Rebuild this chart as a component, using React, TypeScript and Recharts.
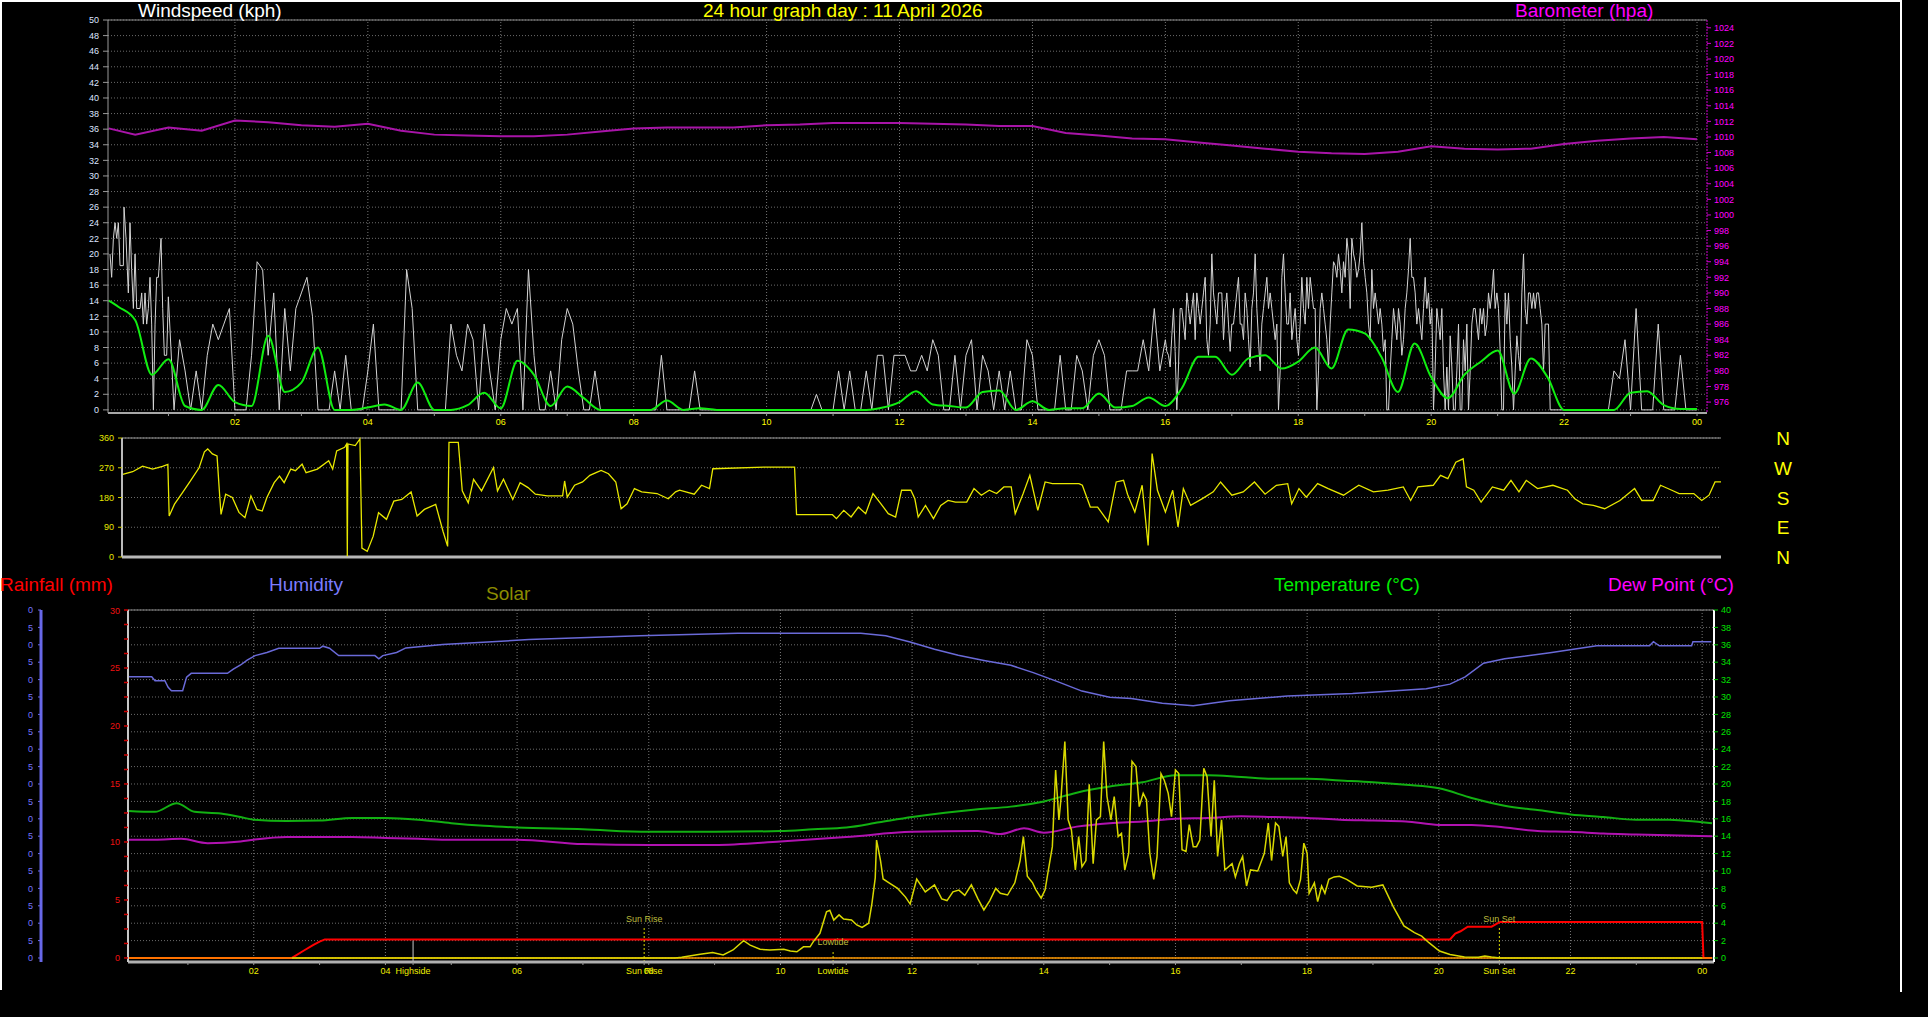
import React from "react";
import { LineChart, Line, XAxis, YAxis, CartesianGrid, ReferenceLine } from "recharts";

const FONT = "'Liberation Sans', Arial, sans-serif";

// ---------- axis ticks / labels ----------
const hourTicks = [1, 2, 3, 4, 5, 6, 7, 8, 9, 10, 11, 12, 13, 14, 15, 16, 17, 18, 19, 20, 21, 22, 23, 24];
const evenHourTicks = [2, 4, 6, 8, 10, 12, 14, 16, 18, 20, 22, 24];
const evenHourLabels = ["02", "04", "06", "08", "10", "12", "14", "16", "18", "20", "22", "00"];
const windTicks = [0, 2, 4, 6, 8, 10, 12, 14, 16, 18, 20, 22, 24, 26, 28, 30, 32, 34, 36, 38, 40, 42, 44, 46, 48, 50];
const baroTicks = [976, 978, 980, 982, 984, 986, 988, 990, 992, 994, 996, 998, 1000, 1002, 1004, 1006, 1008, 1010, 1012, 1014, 1016, 1018, 1020, 1022, 1024];
const dirTicks = [0, 90, 180, 270, 360];
const compassLabels = ["N", "W", "S", "E", "N"];
const rainLabelTicks = [0, 5, 10, 15, 20, 25, 30];
const tempTicks = [0, 2, 4, 6, 8, 10, 12, 14, 16, 18, 20, 22, 24, 26, 28, 30, 32, 34, 36, 38, 40];
const humTicks = [0, 5, 10, 15, 20, 25, 30, 35, 40, 45, 50, 55, 60, 65, 70, 75, 80, 85, 90, 95, 100];
// the humidity scale is cut at the left page edge: only the last digit of each label shows
const humVisibleLabels = ["0", "5", "0", "5", "0", "5", "0", "5", "0", "5", "0", "5", "0", "5", "0", "5", "0", "5", "0", "5", "0"];
const eventTimes = [4.42, 7.93, 10.8, 20.92];
const eventNames = ["Highside", "Sun Rise", "Lowtide", "Sun Set"];
const eventMarkerNames = ["", "Sun Rise", "Lowtide", "Sun Set"];

// ruler (unlabelled minor) ticks
const rainRulerTicks = Array.from({ length: 25 }, (_, i) => i * 1.25);

// ---------- data: wind gust (kph) ----------
// 00:07 - 01:00, readings [hour, kph]
const gustNight: [number, number][] = [
  [0.12, 20], [0.145, 17], [0.171, 22], [0.196, 24], [0.221, 22], [0.246, 24], [0.271, 18.5], [0.321, 18.5], [0.331, 26],
  [0.361, 22], [0.396, 15], [0.421, 24], [0.446, 18], [0.472, 13], [0.497, 20], [0.522, 13], [0.572, 13], [0.597, 15],
  [0.622, 11], [0.647, 15], [0.672, 11], [0.697, 13], [0.722, 17], [0.747, 11], [0.773, 0], [0.798, 11], [0.823, 17],
  [0.848, 17], [0.888, 22], [0.913, 13], [0.938, 7], [0.973, 7], [0.998, 14.5],
];
// 01:05 - 16:00, 5-minute readings
const gustDay5min = [
  0, 9, 5, 0, 5, 0, 7, 11, 9, 11, 13, 0,
  0, 0, 7, 19, 18, 7, 15, 0, 13, 5, 13, 15,
  17, 12, 0, 0, 0, 5, 0, 7, 0, 0, 0, 5,
  11, 0, 0, 0, 0, 0, 18, 13, 0, 0, 0, 0,
  0, 0, 11, 7, 5, 11, 9, 0, 11, 5, 0, 9,
  13, 11, 13, 0, 18, 7, 0, 0, 5, 0, 9, 13,
  11, 5, 0, 0, 5, 0, 0, 0, 0, 0, 0, 0,
  0, 0, 0, 0, 7, 0, 0, 0, 0, 0, 5, 0,
  0, 0, 0, 0, 0, 0, 0, 0, 0, 0, 0, 0,
  0, 0, 0, 0, 0, 0, 0, 0, 2, 0, 0, 0,
  5, 0, 5, 0, 0, 5, 0, 7, 7, 0, 7, 7,
  7, 5, 5, 7, 5, 9, 7, 0, 0, 7, 0, 7,
  9, 0, 7, 5, 0, 5, 0, 5, 0, 0, 9, 7,
  0, 0, 0, 0, 7, 0, 0, 7, 5, 0, 7, 9,
  7, 0, 0, 0, 5, 5, 5, 9, 5, 13, 5, 9,
];
// 16:01 - 21:47, 1.5-minute readings
const gustEvening = [
  7.5, 7, 5.5, 9.5, 13, 7.5, 0, 5.5, 13, 13, 11, 9, 15, 13, 11, 13, 15, 9, 15, 13,
  11, 13, 15, 17, 9, 7, 11, 20, 15, 13, 11, 15, 15, 15, 9, 13, 15, 11, 7.5, 11,
  11, 13, 15, 17, 11, 11, 9, 15, 13, 9, 5.5, 13, 15, 20, 13, 9, 5, 11, 13, 15,
  17, 13, 15, 13, 11, 9, 11, 0, 5, 17, 20, 15, 11, 11, 15, 9, 11, 13, 9, 7,
  11, 17, 13, 11, 17, 13, 17, 15, 13, 13, 0, 5, 13, 15, 13, 11, 9, 5.5, 11, 15,
  19, 18.5, 17, 20, 18, 15, 19, 17, 22, 20, 13, 22, 20, 19, 17, 18, 20, 24, 19,
  17, 15, 11, 9, 18, 13, 15, 13, 11, 13, 11, 7.5, 9, 0, 0, 5, 9, 13, 11, 9,
  13, 11, 7, 9, 13, 15, 18, 22, 17, 17, 15, 11, 13, 11, 9, 13, 17, 13, 15, 11, 13,
  0, 5.5, 13, 11, 9, 13, 5, 0, 5.5, 0, 9.5, 5.5, 0, 0, 5, 11, 0, 0, 9, 5,
  11, 0, 5, 11, 13, 13, 11, 9, 13, 11, 13, 9.5, 11, 15, 13, 15, 18, 13, 15, 13,
  7.5, 0, 0, 15, 11, 15, 9, 5.5, 0, 5, 9.5, 7, 5,
  15, 20, 13, 11, 15, 15, 13, 15, 13, 15, 15, 13, 11, 5, 11, 11, 11, 0,
];
// 21:50 - 24:00, 5-minute readings
const gustLate5min = [
  0, 0, 0,
  0, 0, 0, 0, 0, 0, 0, 0, 5, 4, 9, 0,
  13, 0, 0, 0, 11, 0, 0, 0, 7, 0, 0, 0,
];

// ---------- data: windspeed average (kph), 15-minute readings ----------
const windAvg = [
  14, 13.2, 11.5, 4.5, 6.5, 0.5, 0, 3.2, 1.0, 0.5, 9.5, 2.3,
  3.5, 8, 0, 0, 0.3, 0.7, 0, 3.5, 0, 0, 0.6, 2.2,
  0.2, 6.3, 4.5, 0.5, 3.0, 1.5, 0, 0, 0, 0, 1.2, 0,
  0.2, 0, 0, 0, 0, 0, 0, 0, 0, 0, 0, 0.3,
  1.0, 2.4, 0.7, 0.5, 0.3, 2.3, 2.5, 0, 1.1, 0, 0.2, 0.2,
  2.1, 0.3, 0.5, 1.6, 0.5, 2.8, 6.8, 6.8, 4.5, 6.6, 7.0, 5.3,
  6.2, 8.0, 5.3, 10.3, 9.8, 6.8, 2.3, 8.5, 4.2, 1.5, 4.5, 6.2,
  7.6, 2.1, 6.6, 4.2, 0, 0, 0, 0, 2.2, 2.4, 0.6, 0.1,
  0.1,
];

// ---------- data: barometer (hPa), 30-minute readings ----------
const barometer = [
  1011.1, 1010.3, 1011.2, 1010.8, 1012.1, 1011.9, 1011.5, 1011.3, 1011.7, 1010.8,
  1010.3, 1010.2, 1010.1, 1010.1, 1010.3, 1010.7, 1011.1, 1011.2, 1011.2, 1011.2,
  1011.5, 1011.6, 1011.8, 1011.8, 1011.8, 1011.7, 1011.6, 1011.4, 1011.4, 1010.5,
  1010.2, 1009.8, 1009.7, 1009.3, 1008.9, 1008.5, 1008.1, 1007.9, 1007.8, 1008.1,
  1008.8, 1008.5, 1008.4, 1008.5, 1009.1, 1009.5, 1009.8, 1010.0, 1009.7,
];

// ---------- data: wind direction [hour, degrees] ----------
const windDirection: [number, number][] = [
  [0.1, 250], [0.25, 258], [0.4, 275], [0.55, 266], [0.7, 274], [0.78, 280], [0.8, 124], [0.88, 160], [1.0, 195], [1.12, 230],
  [1.25, 270], [1.33, 318], [1.38, 327], [1.45, 312], [1.52, 306], [1.56, 185], [1.58, 129], [1.65, 190], [1.75, 180], [1.85, 135],
  [1.94, 119], [2.03, 185], [2.12, 144], [2.2, 139], [2.27, 180], [2.38, 225], [2.46, 245], [2.53, 225], [2.63, 266], [2.7, 261],
  [2.8, 281], [2.86, 255], [3.03, 266], [3.2, 291], [3.26, 266], [3.32, 321], [3.44, 332], [3.47, 342], [3.48, 2], [3.49, 342],
  [3.6, 337], [3.67, 357], [3.7, 27], [3.78, 17], [3.87, 63], [3.95, 134], [4.07, 114], [4.18, 169], [4.3, 174], [4.44, 197],
  [4.53, 124], [4.64, 144], [4.81, 159], [4.92, 78], [4.99, 32], [5.01, 347], [5.15, 347], [5.21, 200], [5.3, 164], [5.38, 235],
  [5.5, 200], [5.68, 271], [5.74, 200], [5.83, 235], [5.97, 174], [6.08, 225], [6.2, 210], [6.31, 190], [6.49, 185], [6.72, 185],
  [6.75, 230], [6.79, 181], [6.9, 217], [7.02, 227], [7.13, 247], [7.24, 257], [7.3, 262], [7.41, 252], [7.52, 227], [7.6, 146],
  [7.69, 161], [7.8, 207], [7.91, 197], [8.14, 192], [8.31, 176], [8.42, 197], [8.48, 202], [8.7, 190], [8.81, 217], [8.93, 207],
  [8.98, 267], [9.77, 272], [10.21, 272], [10.24, 128], [10.78, 128], [10.84, 116], [10.95, 141], [11.06, 121], [11.17, 151], [11.28, 131],
  [11.39, 192], [11.51, 161], [11.62, 131], [11.73, 121], [11.82, 202], [11.96, 202], [12.02, 176], [12.07, 121], [12.18, 156], [12.3, 116],
  [12.41, 156], [12.52, 171], [12.63, 166], [12.8, 166], [12.91, 207], [13.02, 187], [13.14, 202], [13.25, 192], [13.36, 212], [13.47, 212],
  [13.53, 131], [13.65, 192], [13.75, 247], [13.87, 141], [13.98, 227], [14.09, 222], [14.32, 222], [14.49, 222], [14.54, 217], [14.66, 151],
  [14.77, 151], [14.93, 106], [15.05, 227], [15.16, 232], [15.22, 190], [15.33, 136], [15.44, 217], [15.53, 35], [15.59, 313], [15.67, 202],
  [15.79, 136], [15.9, 202], [15.98, 91], [16.06, 207], [16.17, 156], [16.34, 176], [16.51, 197], [16.62, 227], [16.79, 187], [16.96, 197],
  [17.13, 227], [17.29, 190], [17.46, 217], [17.63, 222], [17.69, 161], [17.8, 207], [17.91, 181], [18.08, 222], [18.24, 207], [18.47, 187],
  [18.7, 217], [18.92, 197], [19.14, 202], [19.37, 212], [19.48, 171], [19.59, 212], [19.82, 217], [19.93, 247], [20.04, 237], [20.16, 287],
  [20.27, 297], [20.32, 212], [20.43, 202], [20.54, 166], [20.71, 212], [20.88, 202], [20.99, 232], [21.11, 197], [21.22, 232], [21.39, 207],
  [21.62, 217], [21.84, 202], [21.95, 176], [22.07, 161], [22.23, 156], [22.4, 146], [22.63, 171], [22.85, 207], [22.96, 171], [23.13, 171],
  [23.24, 217], [23.41, 202], [23.52, 192], [23.74, 192], [23.86, 171], [23.97, 187], [24.06, 227], [24.15, 227],
];

// ---------- data: humidity (%) [hour, value] ----------
const humidity: [number, number][] = [
  [0.1, 80.8], [0.45, 80.8], [0.5, 79.7], [0.65, 79.7], [0.7, 77.8], [0.75, 76.8], [0.92, 76.8], [0.98, 80.7], [1.05, 81.8], [1.6, 81.8],
  [1.69, 83.0], [1.8, 84.2], [1.9, 85.6], [2.02, 86.9], [2.2, 87.8], [2.38, 89.0], [3.0, 89.0], [3.05, 89.6], [3.15, 89.0], [3.29, 86.9],
  [3.84, 86.9], [3.9, 86.0], [3.96, 86.9], [4.17, 87.8], [4.31, 89.1], [4.87, 90.1], [6.18, 91.5], [7.86, 92.6], [9.35, 93.3], [11.22, 93.3],
  [11.6, 92.6], [11.97, 90.8], [12.34, 88.7], [12.7, 87.0], [13.09, 85.5], [13.5, 84.1], [13.84, 82.0], [14.2, 79.5], [14.58, 76.7], [15.0, 74.9],
  [15.33, 74.6], [15.8, 73.2], [16.27, 72.5], [16.82, 73.9], [17.7, 75.3], [18.69, 76.0], [19.81, 77.4], [20.17, 78.7], [20.4, 80.8], [20.68, 84.7],
  [21.0, 86.0], [21.69, 87.7], [22.4, 89.7], [23.2, 89.7], [23.26, 90.9], [23.35, 89.7], [23.84, 89.7], [23.86, 90.9], [24.14, 90.9],
];

// ---------- data: temperature (°C) [hour, value] ----------
const temperature: [number, number][] = [
  [0.1, 16.9], [0.5, 16.8], [0.83, 17.8], [1.1, 16.8], [1.5, 16.6], [1.8, 16.2], [2.0, 15.9], [2.5, 15.75], [3.0, 15.8], [3.5, 16.1],
  [4.0, 16.1], [4.5, 15.9], [5.0, 15.5], [5.5, 15.2], [6.0, 15.0], [7.0, 14.8], [8.0, 14.5], [9.0, 14.5], [10.0, 14.6], [10.5, 14.8],
  [11.0, 15.0], [11.5, 15.6], [12.0, 16.2], [12.5, 16.7], [13.0, 17.1], [13.5, 17.4], [14.0, 18.0], [14.5, 19.0], [15.0, 19.7], [15.5, 20.2],
  [16.0, 21.0], [16.5, 21.0], [17.0, 20.8], [17.5, 20.6], [18.0, 20.6], [18.5, 20.4], [19.0, 20.2], [19.5, 19.9], [20.0, 19.5], [20.5, 18.4],
  [21.0, 17.5], [21.5, 17.0], [22.0, 16.5], [22.5, 16.2], [23.0, 15.9], [23.5, 15.9], [24.0, 15.6], [24.15, 15.5],
];

// ---------- data: dew point (°C) [hour, value] ----------
const dewPoint: [number, number][] = [
  [0.1, 13.6], [0.5, 13.6], [0.9, 13.7], [1.3, 13.2], [1.8, 13.4], [2.0, 13.6], [2.5, 13.9], [3.0, 13.9], [3.5, 13.9], [4.0, 13.8],
  [4.5, 13.7], [5.0, 13.6], [6.0, 13.6], [7.0, 13.1], [8.0, 13.0], [9.0, 13.0], [10.0, 13.4], [11.0, 13.9], [12.0, 14.5], [13.0, 14.6],
  [13.34, 14.25], [13.7, 14.9], [14.0, 14.4], [14.5, 15.1], [15.0, 15.5], [15.5, 15.7], [16.0, 16.0], [16.5, 16.1], [17.0, 16.3], [17.5, 16.2],
  [18.0, 16.1], [18.5, 15.9], [19.0, 15.8], [19.5, 15.7], [20.0, 15.3], [20.5, 15.3], [21.0, 15.0], [21.5, 14.6], [22.0, 14.5], [22.5, 14.3],
  [23.0, 14.2], [23.5, 14.1], [24.15, 14.0],
];

// ---------- data: rainfall (mm) [hour, value] ----------
const rainfall: [number, number][] = [
  [0.1, 0], [2.58, 0], [2.75, 0.6], [2.9, 1.1], [3.0, 1.4], [3.08, 1.6], [20.17, 1.6], [20.25, 2.1],
  [20.33, 2.3], [20.44, 2.7], [20.8, 2.7], [20.93, 3.1], [24.0, 3.1], [24.02, 0], [24.15, 0],
];

// ---------- data: rain rate (mm/h) [hour, value] ----------
const rainRate: [number, number][] = [[0.1, 0], [24.15, 0]];

// ---------- data: solar (W/m²) [hour, value] ----------
const solar: [number, number][] = [
  [2.58, 0], [8.4, 0], [8.5, 2], [8.78, 11], [8.97, 16], [9.13, 9], [9.28, 23], [9.44, 50], [9.54, 37], [9.69, 25],
  [9.84, 23], [10.05, 25], [10.15, 20], [10.25, 18], [10.35, 32], [10.45, 32], [10.5, 47], [10.6, 71], [10.7, 133], [10.75, 137],
  [10.81, 109], [10.89, 124], [10.96, 112], [11.08, 109], [11.16, 95], [11.24, 88], [11.34, 100], [11.39, 157], [11.44, 230], [11.46, 339],
  [11.52, 280], [11.56, 227], [11.65, 216], [11.78, 200], [11.9, 175], [11.97, 155], [12.07, 227], [12.2, 190], [12.34, 210], [12.45, 170],
  [12.53, 165], [12.62, 190], [12.71, 195], [12.8, 180], [12.9, 210], [13.0, 170], [13.09, 138], [13.18, 165], [13.27, 200], [13.34, 186],
  [13.45, 181], [13.56, 216], [13.64, 280], [13.69, 349], [13.75, 235], [13.83, 216], [13.88, 196], [13.96, 172], [14.02, 196], [14.07, 253],
  [14.13, 320], [14.18, 540], [14.23, 397], [14.26, 455], [14.32, 622], [14.37, 397], [14.42, 368], [14.48, 253], [14.53, 349], [14.58, 262],
  [14.64, 280], [14.69, 499], [14.75, 271], [14.8, 397], [14.86, 406], [14.91, 622], [14.96, 464], [15.02, 397], [15.07, 464], [15.13, 349],
  [15.18, 358], [15.23, 253], [15.29, 301], [15.34, 565], [15.4, 550], [15.45, 435], [15.51, 473], [15.56, 454], [15.61, 301], [15.67, 226],
  [15.72, 291], [15.78, 530], [15.83, 511], [15.89, 473], [15.94, 406], [16.0, 540], [16.05, 530], [16.1, 311], [16.16, 306], [16.21, 383],
  [16.27, 320], [16.32, 320], [16.37, 339], [16.43, 545], [16.48, 521], [16.54, 349], [16.59, 511], [16.64, 292], [16.7, 397], [16.75, 253],
  [16.86, 271], [16.91, 233], [16.97, 271], [17.02, 292], [17.08, 207], [17.14, 253], [17.25, 250], [17.35, 301], [17.41, 388], [17.46, 280],
  [17.52, 388], [17.57, 378], [17.63, 292], [17.68, 349], [17.73, 216], [17.79, 196], [17.84, 186], [17.9, 226], [17.95, 330], [18.0, 301],
  [18.03, 186], [18.11, 216], [18.16, 162], [18.22, 207], [18.27, 186], [18.33, 226], [18.41, 233], [18.49, 235], [18.6, 226], [18.76, 207],
  [18.98, 203], [19.15, 210], [19.31, 147], [19.47, 92], [19.63, 73], [19.74, 63], [19.85, 44], [20.01, 20], [20.17, 10], [20.39, 3],
  [20.6, 2], [20.7, 6], [20.8, 3], [20.93, 0], [24.0, 0],
];

// ---------- build library data ----------
const pairs = (a: [number, number][]) => a.map(([t, v]) => ({ t, v }));
const gustData = [
  ...pairs(gustNight),
  ...gustDay5min.map((v, i) => ({ t: 1 + (i + 1) / 12, v })),
  ...gustEvening.map((v, i) => ({ t: 16.022 + i * 0.02508, v })),
  ...gustLate5min.map((v, i) => ({ t: 21.833 + i / 12, v })),
];
const avgData = windAvg.map((v, i) => ({ t: i === 0 ? 0.1 : i / 4, v }));
const baroData = barometer.map((v, i) => ({ t: i === 0 ? 0.1 : i / 2, v }));
const dirData = pairs(windDirection);
const humData = pairs(humidity);
const tempData = pairs(temperature);
const dewData = pairs(dewPoint);
const rainData = pairs(rainfall);
const rainRateData = pairs(rainRate);
const solarData = pairs(solar);

const fmtTop = (v: number) => {
  const i = evenHourTicks.indexOf(v);
  return i >= 0 ? evenHourLabels[i] : "";
};
const bottomTicks = [...hourTicks, ...eventTimes];
const fmtBottom = (v: number) => {
  const e = eventTimes.indexOf(v);
  if (e >= 0) return eventNames[e];
  return fmtTop(v);
};
const fmtHum = (v: number) => {
  const i = humTicks.indexOf(v);
  return i >= 0 ? humVisibleLabels[i] : "";
};

const tickText = { fontSize: 9, fontFamily: FONT };

const RainTick = (p: any) => {
  const { x, y, payload } = p;
  const v = payload.value;
  const labelled = rainLabelTicks.indexOf(v) >= 0;
  return (
    <g>
      <line x1={x - 4} x2={x} y1={y} y2={y} stroke="#cc0000" strokeWidth={1.5} />
      {labelled && (
        <text x={x - 8} y={y} dy={3.5} textAnchor="end" fill="#ee1111" {...tickText}>
          {v}
        </text>
      )}
    </g>
  );
};

const gridStroke = "#6c6c6c";

export default function App() {
  return (
    <div style={{ position: "fixed", left: 0, top: 0, width: 1928, height: 1017, background: "#000", overflow: "hidden" }}>
      {/* ---- top: windspeed + barometer ---- */}
      <div style={{ position: "absolute", left: 0, top: 0 }}>
        <LineChart width={1928} height={440} margin={{ top: 20, right: 161, bottom: 3, left: 68 }}>
          <CartesianGrid yAxisId="wind" vertical={false} stroke={gridStroke} strokeDasharray="1 2" />
          <XAxis
            type="number"
            dataKey="t"
            domain={[0.09, 24.15]}
            allowDataOverflow
            ticks={hourTicks}
            interval={0}
            tickFormatter={fmtTop}
            height={24}
            tick={{ fill: "#ffff00", ...tickText }}
            tickLine={{ stroke: "#999" }}
            tickSize={3}
            tickMargin={3}
            axisLine={{ stroke: "#a8a8a8", strokeWidth: 2 }}
          />
          <YAxis
            yAxisId="wind"
            orientation="left"
            width={40}
            domain={[-0.4, 50]}
            ticks={windTicks}
            interval={0}
            allowDataOverflow
            tick={{ fill: "#dde4ff", ...tickText }}
            tickSize={5}
            tickMargin={4}
            axisLine={{ stroke: "#999" }}
            tickLine={{ stroke: "#999" }}
          />
          <YAxis
            yAxisId="baro"
            orientation="right"
            width={60}
            domain={[974.6, 1025]}
            ticks={baroTicks}
            interval={0}
            allowDataOverflow
            tick={{ fill: "#ff00ff", ...tickText }}
            tickSize={4}
            tickMargin={3}
            axisLine={{ stroke: "#d000d0", strokeDasharray: "2 1" }}
            tickLine={{ stroke: "#d000d0" }}
          />
          {evenHourTicks.map((h) => (
            <ReferenceLine key={"tv" + h} x={h} yAxisId="wind" stroke="#777" strokeDasharray="1 2" />
          ))}
          <ReferenceLine y={50} yAxisId="wind" stroke="#8a8a8a" />
          <Line data={baroData} yAxisId="baro" dataKey="v" type="linear" stroke="#a814a8" strokeWidth={2} dot={false} isAnimationActive={false} />
          <Line data={gustData} yAxisId="wind" dataKey="v" type="linear" stroke="#d4d4d4" strokeWidth={1} dot={false} isAnimationActive={false} />
          <Line data={avgData} yAxisId="wind" dataKey="v" type="monotone" stroke="#11ee11" strokeWidth={2} dot={false} isAnimationActive={false} />
        </LineChart>
      </div>

      {/* ---- middle: wind direction ---- */}
      <div style={{ position: "absolute", left: 0, top: 430 }}>
        <LineChart width={1928} height={132} margin={{ top: 8, right: 207, bottom: 5, left: 82 }}>
          <CartesianGrid yAxisId="dir" vertical={false} stroke={gridStroke} strokeDasharray="1 2" />
          <XAxis hide type="number" dataKey="t" domain={[0.09, 24.15]} allowDataOverflow />
          <YAxis
            yAxisId="dir"
            width={40}
            domain={[0, 360]}
            ticks={dirTicks}
            interval={0}
            tick={{ fill: "#e6e600", ...tickText }}
            tickSize={4}
            tickMargin={4}
            axisLine={{ stroke: "#bbbbbb", strokeWidth: 2 }}
            tickLine={{ stroke: "#cccc00" }}
          />
          <ReferenceLine y={360} yAxisId="dir" stroke="#9a9a9a" />
          <ReferenceLine y={0} yAxisId="dir" stroke="#b8b8b8" strokeWidth={3} />
          <Line data={dirData} yAxisId="dir" dataKey="v" type="linear" stroke="#e8e800" strokeWidth={1.3} dot={false} isAnimationActive={false} />
        </LineChart>
      </div>

      {/* ---- humidity scale (far left) ---- */}
      <div style={{ position: "absolute", left: 0, top: 560 }}>
        <LineChart width={120} height={440} margin={{ top: 50, right: 10, bottom: 38, left: 0 }}>
          <XAxis hide type="number" dataKey="t" domain={[0.09, 24.18]} allowDataOverflow />
          <YAxis
            yAxisId="hum"
            width={41}
            domain={[-1.15, 100]}
            ticks={humTicks}
            interval={0}
            allowDataOverflow
            tickFormatter={fmtHum}
            tick={{ fill: "#7676ff", ...tickText }}
            tickSize={3}
            tickMargin={5}
            tickLine={{ stroke: "#6a6af0" }}
            axisLine={{ stroke: "#6868e8", strokeWidth: 3 }}
          />
          <Line data={humData} yAxisId="hum" dataKey="v" hide isAnimationActive={false} dot={false} />
        </LineChart>
      </div>

      {/* ---- bottom: rain / humidity / solar / temperature / dew point ---- */}
      <div style={{ position: "absolute", left: 0, top: 560 }}>
        <LineChart width={1928} height={440} margin={{ top: 50, right: 154, bottom: 8, left: 68 }}>
          <CartesianGrid yAxisId="temp" vertical={false} stroke={gridStroke} strokeDasharray="1 2" />
          <XAxis
            type="number"
            dataKey="t"
            domain={[0.09, 24.18]}
            allowDataOverflow
            ticks={bottomTicks}
            interval={0}
            tickFormatter={fmtBottom}
            height={30}
            tick={{ fill: "#eeee00", ...tickText }}
            tickLine={{ stroke: "#999" }}
            tickSize={3}
            tickMargin={3}
            axisLine={{ stroke: "#b0b0b0", strokeWidth: 3 }}
          />
          <YAxis
            yAxisId="rain"
            orientation="left"
            width={60}
            domain={[-0.35, 30]}
            ticks={rainRulerTicks}
            interval={0}
            allowDataOverflow
            tick={RainTick}
            tickSize={0}
            tickMargin={0}
            tickLine={false}
            axisLine={{ stroke: "#c8c8c8", strokeWidth: 2 }}
          />
          <YAxis
            yAxisId="temp"
            orientation="right"
            width={60}
            domain={[-0.46, 40]}
            ticks={tempTicks}
            interval={0}
            allowDataOverflow
            tick={{ fill: "#00e000", ...tickText }}
            tickSize={4}
            tickMargin={3}
            axisLine={{ stroke: "#ffffff", strokeWidth: 2 }}
            tickLine={{ stroke: "#00cc00" }}
          />
          <YAxis yAxisId="hum" hide width={0} orientation="right" domain={[-1.15, 100]} allowDataOverflow />
          <YAxis yAxisId="solar" hide width={0} orientation="right" domain={[-11.5, 1000]} allowDataOverflow />
          {evenHourTicks.map((h) => (
            <ReferenceLine key={"bv" + h} x={h} yAxisId="temp" stroke="#777" strokeDasharray="1 2" />
          ))}
          <ReferenceLine y={40} yAxisId="temp" stroke="#8a8a8a" />
          <Line data={humData} yAxisId="hum" dataKey="v" type="linear" stroke="#6a6ad8" strokeWidth={1.5} dot={false} isAnimationActive={false} />
          <Line data={tempData} yAxisId="temp" dataKey="v" type="monotone" stroke="#12b012" strokeWidth={2} dot={false} isAnimationActive={false} />
          <Line data={dewData} yAxisId="temp" dataKey="v" type="monotone" stroke="#b012b0" strokeWidth={2} dot={false} isAnimationActive={false} />
          <Line data={rainData} yAxisId="rain" dataKey="v" type="linear" stroke="#ff0000" strokeWidth={2} dot={false} isAnimationActive={false} />
          <Line data={rainRateData} yAxisId="rain" dataKey="v" type="linear" stroke="#ff9900" strokeWidth={1.5} dot={false} isAnimationActive={false} />
          <Line data={solarData} yAxisId="solar" dataKey="v" type="linear" stroke="#d8d800" strokeWidth={1.5} dot={false} isAnimationActive={false} />
          {eventTimes.map((t, i) => (
            <ReferenceLine
              key={"ev" + i}
              yAxisId="temp"
              segment={[
                { x: t, y: -0.46 },
                { x: t, y: [2.0, 3.6, 0.9, 3.6][i] },
              ]}
              stroke={i === 0 ? "#c8c8c8" : "#d8d800"}
              strokeDasharray={i === 0 ? undefined : "2 2"}
              label={
                eventMarkerNames[i]
                  ? { value: eventMarkerNames[i], position: "top", fill: "#bcbc3c", fontSize: 9, fontFamily: FONT }
                  : undefined
              }
            />
          ))}
        </LineChart>
      </div>

      {/* ---- titles, compass letters, frame ---- */}
      <svg width={1928} height={1017} style={{ position: "absolute", left: 0, top: 0, pointerEvents: "none" }}>
        <line x1={1} y1={0} x2={1} y2={990} stroke="#ffffff" strokeWidth={2} />
        <line x1={0} y1={1} x2={1902} y2={1} stroke="#ffffff" strokeWidth={2} />
        <line x1={1901} y1={0} x2={1901} y2={992} stroke="#ffffff" strokeWidth={2} />
        <g fontFamily={FONT} fontSize={19}>
          <text x={138} y={17} fill="#ffffff">Windspeed (kph)</text>
          <text x={703} y={17} fill="#ffff00">24 hour graph day : 11 April 2026</text>
          <text x={1515} y={17} fill="#ff00ff">Barometer (hpa)</text>
          <text x={0} y={591} fill="#ff0000">Rainfall (mm)</text>
          <text x={269} y={591} fill="#7c7cff">Humidity</text>
          <text x={486} y={600} fill="#8c8c00">Solar</text>
          <text x={1274} y={591} fill="#00ee00">Temperature (°C)</text>
          <text x={1608} y={591} fill="#ff00ff">Dew Point (°C)</text>
        </g>
        <g fontFamily={FONT} fontSize={19} fill="#ffff00" textAnchor="middle">
          {compassLabels.map((c, i) => (
            <text key={"c" + i} x={1783} y={445 + i * 29.8}>{c}</text>
          ))}
        </g>
      </svg>
    </div>
  );
}
